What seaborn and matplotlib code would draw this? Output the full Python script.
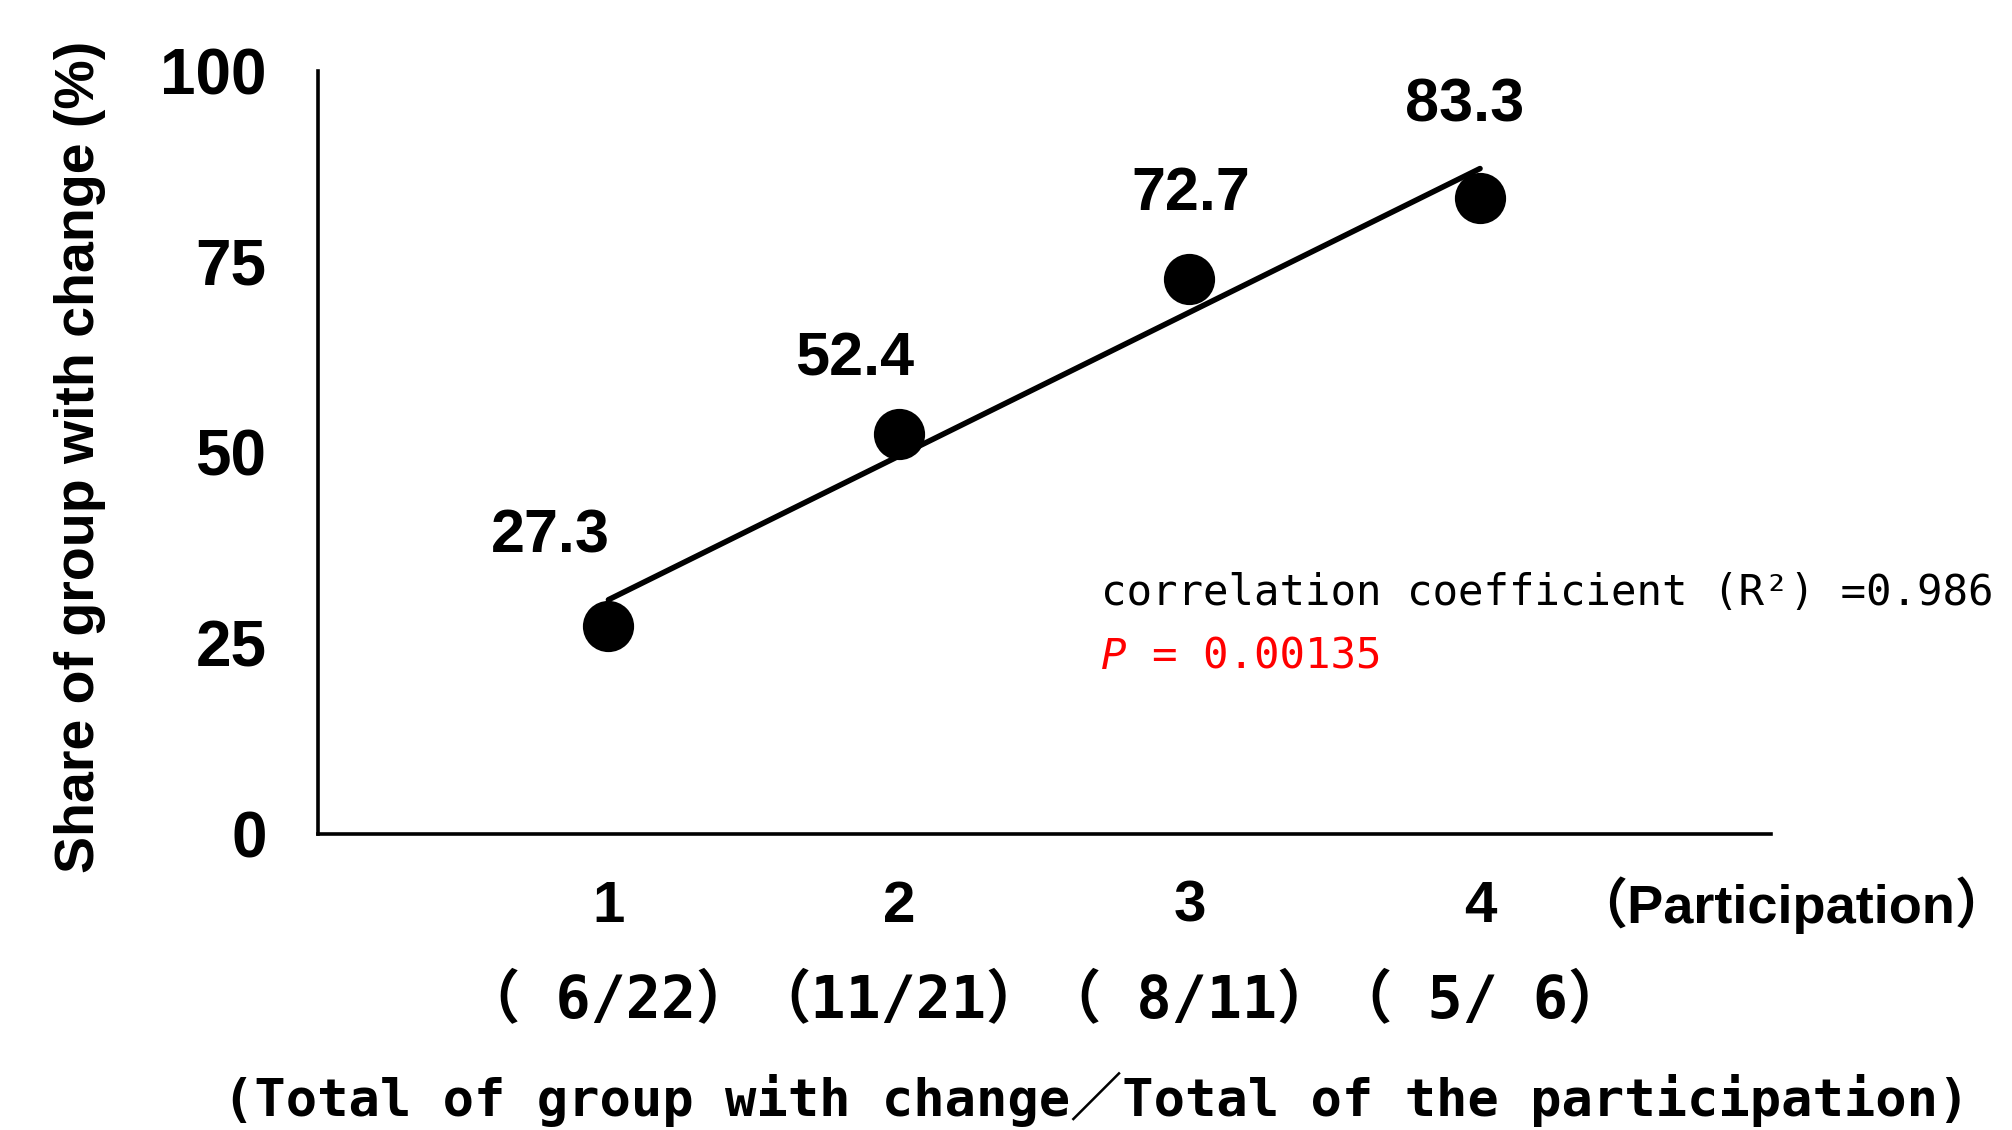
import matplotlib
matplotlib.use('Agg')
import pandas as pd
import matplotlib.pyplot as plt
import matplotlib.transforms as mtransforms
import seaborn as sns

# %% data
participation = [1, 2, 3, 4]
share = [27.3, 52.4, 72.7, 83.3]          # share of group with change (%)
changed = [6, 11, 8, 5]                    # total of group with change
total = [22, 21, 11, 6]                    # total of the participation
y_ticks = [0, 25, 50, 75, 100]
r2 = 0.986
p_value = 0.00135

# %% style
sns.set_style('white', {'text.color': 'black', 'xtick.color': 'black',
                        'ytick.color': 'black', 'axes.labelcolor': 'black'})
plt.rcParams['font.family'] = ['Liberation Sans', 'Noto Sans CJK JP']
plt.rcParams['axes.unicode_minus'] = False
sansFam = ['Liberation Sans', 'Noto Sans CJK JP']
monoFam = ['DejaVu Sans Mono', 'Noto Sans CJK JP']

df = pd.DataFrame({'participation': participation, 'share': share})

fig = plt.figure(figsize=(20.12, 11.3), dpi=100)
ax = fig.add_axes([0.158, 0.262, 0.722, 0.6755])

sns.regplot(x='participation', y='share', data=df, ax=ax, ci=None,
            truncate=True, color='black',
            scatter_kws={'s': 1360, 'alpha': 1, 'linewidths': 0, 'zorder': 3},
            line_kws={'color': 'black', 'lw': 4, 'zorder': 2})

ax.set_xlim(0, 5)
ax.set_ylim(0, 100)
ax.set_xlabel('')
ax.set_ylabel('')

# 数值标签
label_offsets = [(-42, 64), (-32, 53), (1, 61), (-11, 66)]
for x, y, (dx, dy) in zip(participation, share, label_offsets):
    ax.annotate('%.1f' % y, (x, y), xytext=(dx, dy), textcoords='offset points',
                ha='center', va='center', fontsize=44, fontweight='bold',
                annotation_clip=False)

# 坐标轴
ax.set_yticks(y_ticks)
ax.set_yticklabels([str(v) for v in y_ticks], fontsize=46, fontweight='bold')
ax.set_xticks(participation)
ax.set_xticklabels([str(p) for p in participation], fontsize=42, fontweight='bold')
ax.tick_params(axis='y', length=0, pad=37)
ax.tick_params(axis='x', length=0, pad=33)

sns.despine(ax=ax)
for s in ['left', 'bottom']:
    ax.spines[s].set_color('black')
    ax.spines[s].set_linewidth(2.6)

trans = mtransforms.blended_transform_factory(ax.transData, ax.transAxes)
# 第二行: 变化人数/参与人数
for p, c, t in zip(participation, changed, total):
    ax.text(p, -0.219, '（%2d/%2d）' % (c, t), transform=trans, ha='center', va='center',
            fontfamily=monoFam, fontsize=42, fontweight='bold')

ax.text(4.32, -0.093, '（Participation）', transform=trans, ha='left', va='center',
        fontfamily=sansFam, fontsize=39, fontweight='bold')

# 相关系数
ax.text(2.694, 31.6, 'correlation coefficient (R²) =%s' % r2, fontfamily=monoFam,
        fontsize=30.5, ha='left', va='center')
ax.text(2.694, 23.2, 'P', color='red', style='italic', fontfamily=monoFam,
        fontsize=30.5, ha='left', va='center')
ax.annotate('= %s' % p_value, (2.694, 23.2), xytext=(36.7, 0), textcoords='offset points',
            color='red', fontfamily=monoFam, fontsize=30.5, ha='left', va='center')

fig.text(0.0397, 0.596, 'Share of group with change (%)', rotation=90,
         ha='center', va='center', fontfamily=sansFam, fontsize=40, fontweight='bold')
fig.text(0.545, 0.027, '(Total of group with change／Total of the participation)',
         ha='center', va='center', fontfamily=monoFam, fontsize=37.5, fontweight='bold')

fig.savefig('out.png', dpi=100)
